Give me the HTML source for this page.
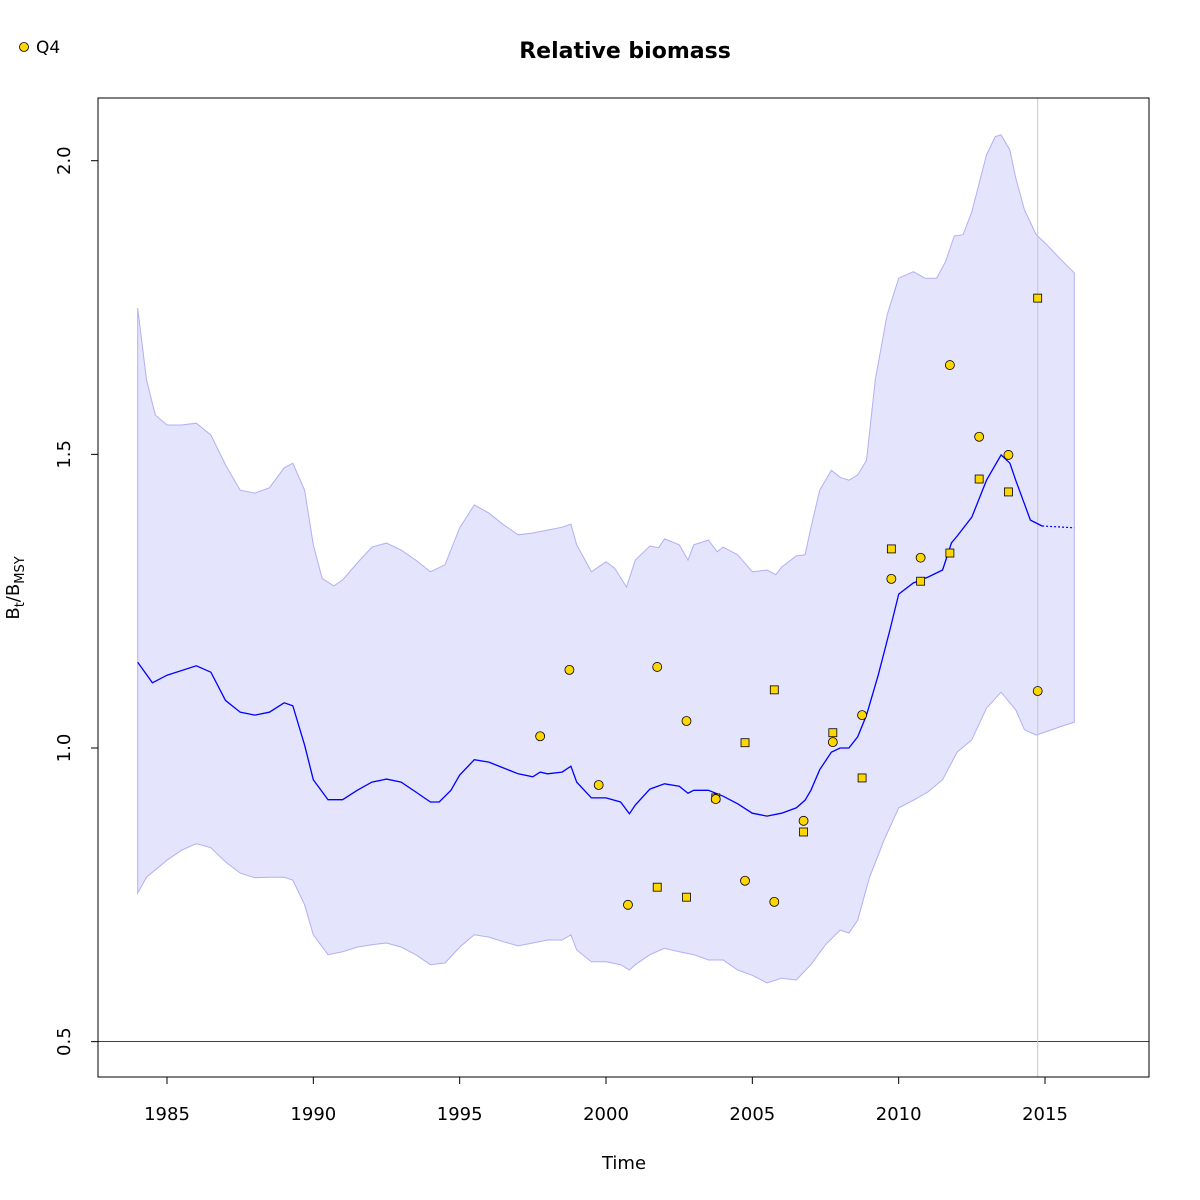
<!DOCTYPE html>
<html><head><meta charset="utf-8"><style>body{margin:0;background:#fff}svg{display:block;font-family:"DejaVu Sans","Liberation Sans",sans-serif}</style></head>
<body>
<svg id="c" width="1200" height="1200" viewBox="0 0 1200 1200">
<rect width="1200" height="1200" fill="#fff"/>
<text x="625" y="58" text-anchor="middle" font-size="22" font-weight="bold">Relative biomass</text>
<g><circle cx="24" cy="47" r="4.5" fill="#FFD700" stroke="#000" stroke-width="0.8"/><text x="36" y="53" font-size="17">Q4</text></g>
<text x="624" y="1169" text-anchor="middle" font-size="18">Time</text>
<text transform="translate(19,588) rotate(-90)" text-anchor="middle" font-size="18">B<tspan font-size="13" dy="5">t</tspan><tspan dy="-5">/B</tspan><tspan font-size="13" dy="5">MSY</tspan></text>
<g id="plot"></g>
<rect x="98" y="98" width="1051" height="979" fill="none" stroke="#000" stroke-width="1"/>
</svg>
<script>
const medYears=[1984,1984.5,1985,1986,1986.5,1987,1987.5,1988,1988.5,1989,1989.3,1989.7,1990,1990.5,1991,1991.5,1992,1992.5,1993,1993.5,1994,1994.3,1994.7,1995,1995.5,1996,1996.5,1997,1997.5,1997.75,1998,1998.5,1998.8,1999,1999.5,2000,2000.5,2000.8,2001,2001.5,2002,2002.5,2002.8,2003,2003.5,2004,2004.5,2005,2005.5,2006,2006.5,2006.8,2007,2007.3,2007.7,2008,2008.3,2008.6,2008.9,2009.3,2009.7,2010,2010.5,2011,2011.5,2011.8,2012,2012.5,2013,2013.5,2013.8,2014,2014.5,2014.9];
const medValues=[1.146,1.111,1.124,1.140,1.129,1.081,1.061,1.056,1.061,1.077,1.072,1.005,0.946,0.912,0.912,0.928,0.942,0.947,0.942,0.925,0.908,0.908,0.928,0.954,0.980,0.976,0.966,0.956,0.951,0.959,0.956,0.959,0.969,0.942,0.915,0.915,0.908,0.888,0.903,0.930,0.939,0.935,0.923,0.928,0.928,0.918,0.905,0.889,0.884,0.889,0.898,0.911,0.928,0.963,0.993,1.000,1.000,1.019,1.056,1.124,1.201,1.262,1.281,1.291,1.303,1.349,1.361,1.393,1.456,1.499,1.485,1.456,1.388,1.378];
const fcYears=[2014.9,2016];
const fcValues=[1.378,1.375];
const upYears=[1984,1984.3,1984.6,1985,1985.5,1986,1986.5,1987,1987.5,1988,1988.5,1989,1989.3,1989.7,1990,1990.3,1990.7,1991,1991.5,1992,1992.5,1993,1993.5,1994,1994.5,1995,1995.5,1996,1996.5,1997,1997.5,1998,1998.5,1998.8,1999,1999.5,2000,2000.3,2000.7,2001,2001.5,2001.8,2002,2002.5,2002.8,2003,2003.5,2003.8,2004,2004.5,2005,2005.5,2005.8,2006,2006.5,2006.8,2007,2007.3,2007.7,2008,2008.3,2008.6,2008.9,2009.2,2009.6,2010,2010.5,2010.9,2011.3,2011.6,2011.9,2012.2,2012.5,2013,2013.3,2013.5,2013.8,2014,2014.3,2014.7,2015,2015.5,2016];
const upValues=[1.749,1.627,1.567,1.550,1.550,1.553,1.533,1.482,1.439,1.434,1.443,1.477,1.485,1.439,1.346,1.289,1.276,1.286,1.315,1.342,1.349,1.337,1.320,1.300,1.312,1.375,1.414,1.400,1.380,1.363,1.366,1.371,1.376,1.381,1.346,1.300,1.317,1.306,1.274,1.320,1.344,1.341,1.356,1.346,1.320,1.346,1.354,1.334,1.342,1.329,1.300,1.303,1.295,1.308,1.327,1.329,1.375,1.439,1.473,1.461,1.456,1.465,1.490,1.627,1.737,1.800,1.811,1.800,1.800,1.828,1.872,1.874,1.913,2.010,2.041,2.044,2.018,1.971,1.916,1.874,1.860,1.834,1.809];
const loYears=[1984,1984.3,1985,1985.5,1986,1986.5,1987,1987.5,1988,1988.5,1989,1989.3,1989.7,1990,1990.5,1991,1991.5,1992,1992.5,1993,1993.5,1994,1994.5,1995,1995.5,1996,1996.5,1997,1997.5,1998,1998.5,1998.8,1999,1999.5,2000,2000.5,2000.8,2001,2001.5,2002,2002.5,2003,2003.5,2004,2004.5,2005,2005.5,2006,2006.5,2007,2007.5,2008,2008.3,2008.6,2009,2009.5,2010,2010.5,2011,2011.5,2012,2012.5,2013,2013.5,2014,2014.3,2014.7,2015,2015.5,2016];
const loValues=[0.753,0.780,0.809,0.826,0.837,0.830,0.806,0.787,0.779,0.780,0.780,0.775,0.733,0.682,0.648,0.653,0.661,0.665,0.668,0.661,0.648,0.631,0.634,0.661,0.682,0.678,0.670,0.663,0.668,0.673,0.673,0.682,0.656,0.636,0.636,0.631,0.622,0.631,0.648,0.659,0.653,0.648,0.639,0.639,0.622,0.613,0.600,0.608,0.605,0.631,0.665,0.690,0.685,0.707,0.779,0.843,0.898,0.911,0.925,0.946,0.993,1.014,1.068,1.095,1.065,1.031,1.022,1.027,1.036,1.044];
const circYears=[1997.75,1998.75,1999.75,2000.75,2001.75,2002.75,2003.75,2004.75,2005.75,2006.75,2007.75,2008.75,2009.75,2010.75,2011.75,2012.75,2013.75,2014.75];
const circValues=[1.020,1.133,0.937,0.733,1.138,1.046,0.913,0.774,0.738,0.876,1.010,1.056,1.288,1.324,1.652,1.530,1.499,1.097];
const sqYears=[2001.75,2002.75,2003.75,2004.75,2005.75,2006.75,2007.75,2008.75,2009.75,2010.75,2011.75,2012.75,2013.75,2014.75];
const sqValues=[0.763,0.746,0.915,1.009,1.099,0.857,1.026,0.949,1.339,1.284,1.332,1.458,1.436,1.766];
const xTicks=[1985,1990,1995,2000,2005,2010,2015];
const yTicks=[0.5,1.0,1.5,2.0];
const yTickLabels=["0.5","1.0","1.5","2.0"];
const lastYear=2014.75;

const X=v=>167+(v-1985)*29.267;
const Y=v=>748-(v-1)*587.3;
const NS="http://www.w3.org/2000/svg";
const g=document.getElementById('plot');
function mk(t,a){const e=document.createElementNS(NS,t);for(const k in a)e.setAttribute(k,a[k]);g.appendChild(e);return e;}
const pts=(xs,ys)=>xs.map((x,i)=>X(x).toFixed(1)+','+Y(ys[i]).toFixed(1));
let band=mk('polygon',{points:pts(upYears,upValues).concat(pts(loYears,loValues).reverse()).join(' '),fill:'#e4e4fd',stroke:'#b0b0f5','stroke-width':1});


let hl=mk('line',{x1:98,x2:1149,y1:Y(0.5),y2:Y(0.5),stroke:'#000','stroke-width':0.8});


let vl=mk('line',{x1:X(lastYear),x2:X(lastYear),y1:98,y2:1077,stroke:'#c8c8c8','stroke-width':1});


let ml=mk('polyline',{points:pts(medYears,medValues).join(' '),fill:'none',stroke:'#0000ff','stroke-width':1.3});


let fl=mk('polyline',{points:pts(fcYears,fcValues).join(' '),fill:'none',stroke:'#0000ff','stroke-width':1.2,'stroke-dasharray':'2,2'});


sqYears.forEach((yr,i)=>{const r=mk('rect',{x:X(yr)-4,y:Y(sqValues[i])-4,width:8,height:8,fill:'#FFD700',stroke:'#000','stroke-width':0.8});

});
circYears.forEach((yr,i)=>{const c=mk('circle',{cx:X(yr),cy:Y(circValues[i]),r:4.5,fill:'#FFD700',stroke:'#000','stroke-width':0.8});

});
xTicks.forEach(t=>{const l=mk('line',{x1:X(t),x2:X(t),y1:1077,y2:1084,stroke:'#000'});


const tx=mk('text',{x:X(t),y:1120,'text-anchor':'middle','font-size':18});tx.textContent=t;

});
yTicks.forEach((t,i)=>{const l=mk('line',{x1:91,x2:98,y1:Y(t),y2:Y(t),stroke:'#000'});


const tx=mk('text',{transform:`translate(70,${Y(t)}) rotate(-90)`,'text-anchor':'middle','font-size':18});tx.textContent=yTickLabels[i];

});
</script>
</body></html>
